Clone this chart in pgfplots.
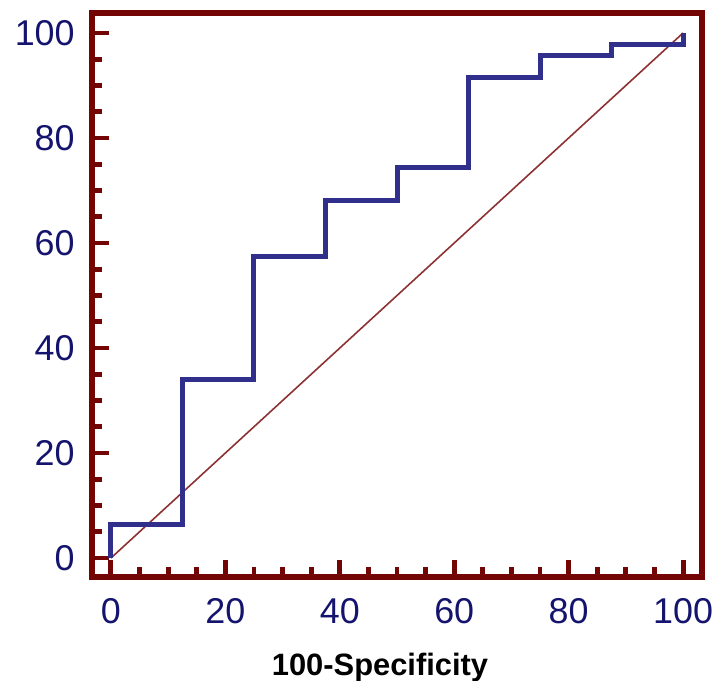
\documentclass[border=0pt]{standalone}
\usepackage{fontspec}
\setmainfont{Liberation Sans}
\usepackage{pgfplots}
\pgfplotsset{compat=1.18}
\definecolor{axred}{RGB}{115,5,5}
\definecolor{rocblue}{RGB}{48,48,140}
\definecolor{ticknavy}{RGB}{20,20,110}
\definecolor{diag}{RGB}{140,50,50}
\begin{document}
\begin{tikzpicture}
\begin{axis}[
  scale only axis, width=305bp, height=282bp,
  xmin=-3.3, xmax=103.3, ymin=-3.6, ymax=103.8,
  axis line style={axred, line width=2.6bp},
  xtick={0,20,...,100}, ytick={0,20,...,100},
  minor tick num=3,
  tick align=inside,
  tick pos=left,
  major tick length=8.5bp, minor tick length=5bp,
  every tick/.style={axred, line width=2.4bp},
  /pgf/number format/assume math mode=true,
  tick label style={font=\fontsize{18}{18}\selectfont, text=ticknavy, inner sep=0pt},
  xticklabel style={yshift=-10.5bp},
  yticklabel style={xshift=-8.5bp},
  xlabel={100-Specificity},
  xlabel style={font=\fontsize{15.5}{15.5}\selectfont\bfseries, text=black,
    at={(axis description cs:0.5,0)}, anchor=base, yshift=-49bp, xshift=-8.5bp},
]
\addplot[diag, line width=0.8bp] coordinates {(0,0) (100,100)};
\addplot[rocblue, line width=2.5bp, line join=miter] coordinates {
  (0,0) (0,6.38) (12.5,6.38) (12.5,34.04) (25,34.04) (25,57.45)
  (37.5,57.45) (37.5,68.09) (50,68.09) (50,74.47) (62.5,74.47)
  (62.5,91.49) (75,91.49) (75,95.74) (87.5,95.74) (87.5,97.87)
  (100,97.87) (100,100)
};
\end{axis}
\pgfresetboundingbox
\path[use as bounding box] ([xshift=-46bp,yshift=-52bp]current axis.south west) rectangle ([xshift=8.5bp,yshift=6.5bp]current axis.north east);
\end{tikzpicture}
\end{document}
